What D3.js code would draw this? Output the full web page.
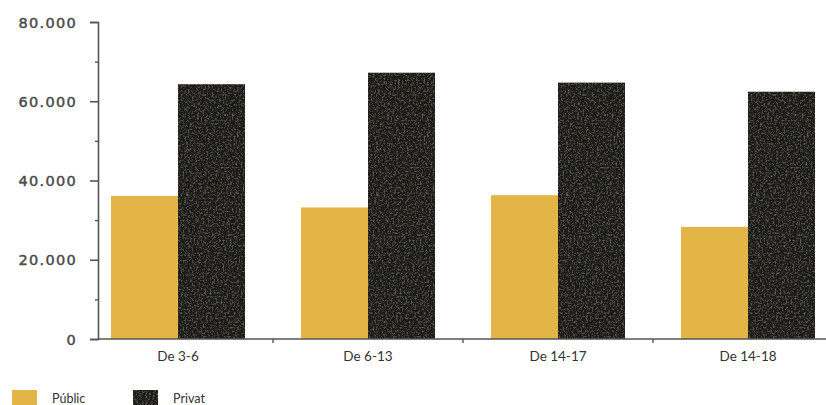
<!DOCTYPE html>
<html><head><meta charset="utf-8">
<script src="https://cdn.jsdelivr.net/npm/d3@7"></script>
<style>html,body{margin:0;padding:0;background:#fff;}svg{display:block;}</style>
</head><body>
<svg id="c" width="826" height="405"></svg>
<script>
const categories = ["De 3-6", "De 6-13", "De 14-17", "De 14-18"];
const seriesNames = ["Públic", "Privat"];
const publicValues = [36100, 33200, 36300, 28300];
const privatValues = [64300, 67200, 64700, 62400];
const majorTicks = [0, 20000, 40000, 60000, 80000];
const minorTicks = [10000, 30000, 50000, 70000];
const colors = {"Públic": "#e2b546", "Privat": "#1f1a18"};

const svg = d3.select("#c");
const defs = svg.append("defs");
const f = defs.append("filter").attr("id","grain").attr("x",0).attr("y",0).attr("width","100%").attr("height","100%");
f.append("feTurbulence").attr("type","fractalNoise").attr("baseFrequency",0.55).attr("numOctaves",2).attr("seed",4).attr("result","n");
f.append("feColorMatrix").attr("in","n").attr("type","matrix")
 .attr("values","0 0 0 0 0.27  0 0 0 0 0.25  0 0 0 0 0.24  0 0 0 1.4 -0.70").attr("result","sp");
f.append("feComposite").attr("in","sp").attr("in2","SourceGraphic").attr("operator","in").attr("result","s2");
const fm = f.append("feMerge");
fm.append("feMergeNode").attr("in","SourceGraphic");
fm.append("feMergeNode").attr("in","s2");

const axisX = 98, baseY = 339, topY = 22;
const y = d3.scaleLinear().domain([0, 80000]).range([baseY, topY]);
const x = d3.scaleBand().domain(categories).range([83, 843]).padding(0);
const xs = d3.scaleBand().domain(seriesNames).range([0, x.bandwidth()]).paddingInner(0).paddingOuter(0.418);

const loc = d3.formatLocale({decimal: ",", thousands: ".", grouping: [3], currency: ["", ""]});
const fmt = loc.format(",d");

const data = categories.map((c, i) => ({cat: c, vals: [
  {s: "Públic", v: publicValues[i]}, {s: "Privat", v: privatValues[i]}]}));

const g = svg.append("g");
const grp = g.selectAll("g.grp").data(data).join("g").attr("class","grp")
  .attr("transform", d => `translate(${x(d.cat)},0)`);
grp.selectAll("rect").data(d => d.vals).join("rect")
  .attr("x", d => xs(d.s)).attr("width", xs.bandwidth())
  .attr("y", d => y(d.v)).attr("height", d => baseY - y(d.v))
  .attr("fill", d => colors[d.s])
  .attr("filter", d => d.s === "Privat" ? "url(#grain)" : null);

// Y axis
const ya = svg.append("g").attr("transform", `translate(${axisX},0)`)
  .call(d3.axisLeft(y).tickValues(majorTicks).tickFormat(fmt).tickSize(8).tickPadding(13));
ya.select(".domain").attr("stroke","#555").attr("stroke-width",1.6);
ya.selectAll(".tick line").attr("stroke","#555").attr("stroke-width",1.6);
ya.selectAll(".tick text").attr("fill","#4a4a4a").attr("stroke","#4a4a4a").attr("stroke-width",0.45)
  .style("font-family","'DejaVu Sans', sans-serif")
  .style("font-size","14.5px").style("letter-spacing","1.3px").attr("dy","0.36em");
const ym = svg.append("g").attr("transform", `translate(${axisX},0)`)
  .call(d3.axisLeft(y).tickValues(minorTicks).tickFormat("").tickSize(3));
ym.select(".domain").remove();
ym.selectAll(".tick line").attr("stroke","#555").attr("stroke-width",1.4);

// X axis
const xa = svg.append("g").attr("transform", `translate(0,${baseY})`);
xa.append("line").attr("x1", axisX).attr("x2", 826).attr("y1", 0).attr("y2", 0)
  .attr("stroke","#555").attr("stroke-width",1.6);
xa.selectAll("line.bt").data(categories.slice(1)).join("line").attr("class","bt")
  .attr("x1", d => x(d)).attr("x2", d => x(d)).attr("y1", 0).attr("y2", 4)
  .attr("stroke","#555").attr("stroke-width",1.4);
xa.selectAll("text").data(categories).join("text")
  .attr("x", d => x(d) + x.bandwidth()/2).attr("y", 22)
  .attr("text-anchor","middle").attr("fill","#333")
  .style("font-family","Lato, sans-serif").style("font-size","13.5px")
  .text(d => d);

// Legend
const leg = svg.append("g").attr("transform","translate(12,390)");
const li = leg.selectAll("g").data(seriesNames).join("g")
  .attr("transform", (d,i) => `translate(${i*121},0)`);
li.append("rect").attr("width",25).attr("height",18).attr("fill", d => colors[d])
  .attr("filter", d => d === "Privat" ? "url(#grain)" : null);
li.append("text").attr("x",40).attr("y",13).attr("fill","#333")
  .style("font-family","Lato, sans-serif").style("font-size","12.5px").text(d => d);
</script>
</body></html>
